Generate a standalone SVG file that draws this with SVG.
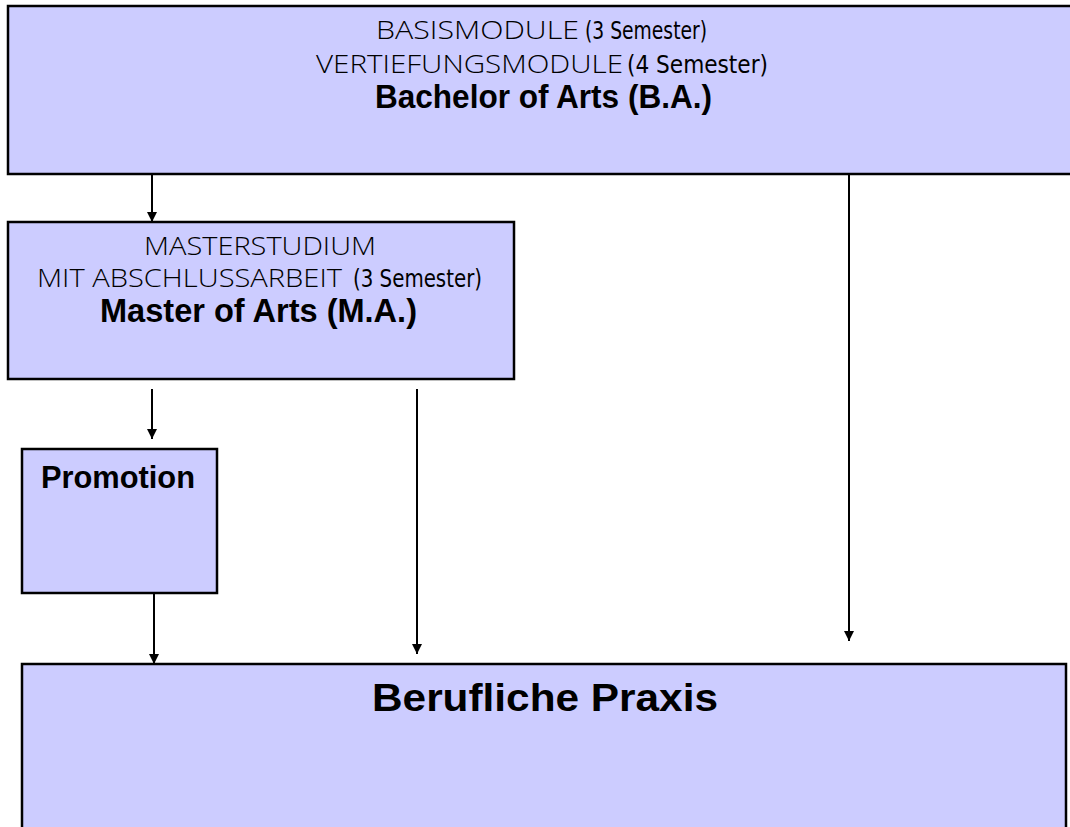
<svg xmlns="http://www.w3.org/2000/svg" width="1070" height="827" viewBox="0 0 1070 827">
<defs>
<style>
.box{fill:#CCCCFF;stroke:#000;stroke-width:2.5}
.reg{font-family:"Open Sans","Liberation Sans",sans-serif;font-weight:300;font-size:26px;fill:#000}
.cond{font-family:"Liberation Sans Narrow","DejaVu Sans Condensed","Liberation Sans",sans-serif;font-weight:400;font-size:24px;fill:#000}
.bold{font-family:"Liberation Sans Narrow","Liberation Sans",sans-serif;font-weight:700;fill:#000}
.conn{stroke:#000;stroke-width:2;fill:none;marker-end:url(#arr)}
</style>
<marker id="arr" markerUnits="userSpaceOnUse" markerWidth="10" markerHeight="11" refX="10" refY="5" orient="auto">
<path d="M0,0 L10,5 L0,10 z" fill="#000"/>
</marker>
</defs>
<rect width="1070" height="827" fill="#fff"/>
<g id="connectors">
<line class="conn" x1="152" y1="175" x2="152" y2="222"/>
<line class="conn" x1="849" y1="175" x2="849" y2="641"/>
<line class="conn" x1="152" y1="389" x2="152" y2="439"/>
<line class="conn" x1="417" y1="389" x2="417" y2="654"/>
<line class="conn" x1="154" y1="594" x2="154" y2="664"/>
</g>
<g id="node-bachelor">
<rect class="box" x="8" y="6" width="1080" height="168"/>
<text y="39"><tspan class="reg" x="376" textLength="203" lengthAdjust="spacingAndGlyphs">BASISMODULE</tspan><tspan class="cond" x="585" textLength="122" lengthAdjust="spacingAndGlyphs">(3 Semester)</tspan></text>
<text y="73"><tspan class="reg" x="316" textLength="307" lengthAdjust="spacingAndGlyphs">VERTIEFUNGSMODULE</tspan><tspan class="cond" x="627" textLength="141" lengthAdjust="spacingAndGlyphs">(4 Semester)</tspan></text>
<text class="bold" x="375" y="108" font-size="33" textLength="337" lengthAdjust="spacingAndGlyphs">Bachelor of Arts (B.A.)</text>
</g>
<g id="node-master">
<rect class="box" x="8" y="222" width="506" height="157"/>
<text class="reg" x="144" y="255" textLength="232" lengthAdjust="spacingAndGlyphs">MASTERSTUDIUM</text>
<text y="287"><tspan class="reg" x="37" textLength="305" lengthAdjust="spacingAndGlyphs">MIT ABSCHLUSSARBEIT</tspan><tspan class="cond" x="353" textLength="129" lengthAdjust="spacingAndGlyphs">(3 Semester)</tspan></text>
<text class="bold" x="100" y="322" font-size="33" textLength="317" lengthAdjust="spacingAndGlyphs">Master of Arts (M.A.)</text>
</g>
<g id="node-promotion">
<rect class="box" x="22" y="449" width="195" height="144"/>
<text class="bold" x="41" y="488" font-size="32" textLength="154" lengthAdjust="spacingAndGlyphs">Promotion</text>
</g>
<g id="node-praxis">
<rect class="box" x="22" y="664" width="1044" height="180"/>
<text class="bold" x="372" y="711" font-size="39" textLength="346" lengthAdjust="spacingAndGlyphs">Berufliche Praxis</text>
</g>
</svg>
